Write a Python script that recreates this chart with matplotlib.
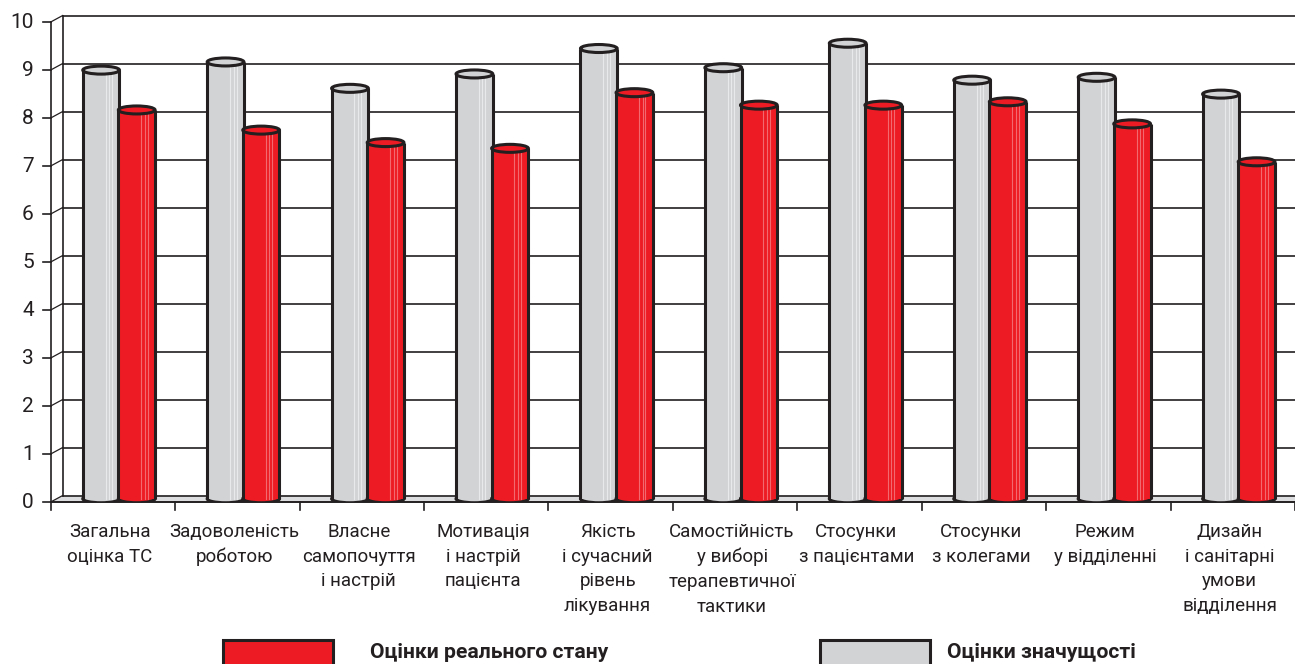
import matplotlib
matplotlib.use('Agg')
import matplotlib.pyplot as plt
from matplotlib.patches import Ellipse, Rectangle, Polygon
from matplotlib.transforms import offset_copy

plt.rcParams['font.family'] = ['Roboto', 'DejaVu Sans']

# Data
categories = ['Загальна\nоцінка ТС', 'Задоволеність\nроботою', 'Власне\nсамопочуття\nі настрій',
              'Мотивація\nі настрій\nпацієнта', 'Якість\nі сучасний\nрівень\nлікування',
              'Самостійність\nу виборі\nтерапевтичної\nтактики', 'Стосунки\nз пацієнтами',
              'Стосунки\nз колегами', 'Режим\nу відділенні', 'Дизайн\nі санітарні\nумови\nвідділення']
importance = [8.93, 9.1, 8.55, 8.85, 9.38, 8.98, 9.49, 8.72, 8.78, 8.43]
real_state = [8.1, 7.68, 7.42, 7.3, 8.46, 8.2, 8.2, 8.27, 7.81, 7.02]
y_ticks = list(range(0, 11))
legend_labels = ['Оцінки реального стану', 'Оцінки значущості']

GREY = '#D1D3D4'
RED = '#ED1C24'
DARK = '#231F20'
FLOOR = '#DCDDDE'

W, H = 1295, 664
fig = plt.figure(figsize=(W / 100, H / 100), dpi=100)
left_px, right_px, bottom_px, top_px = 50.7, 1295, 502, 22
ax = fig.add_axes([left_px / W, (H - bottom_px) / H, (right_px - left_px) / W, (bottom_px - top_px) / H])
n = len(categories)
ax.set_xlim(0, n)
ax.set_ylim(0, 10)
ax.axis('off')

# depth of the 3D box, in data units (12 px right, 6.5 px up)
px_x = (right_px - left_px) / n
px_y = (bottom_px - top_px) / 10
DX, DY = 12 / px_x, 6.5 / px_y

# floor
ax.add_patch(Polygon([(0, 0), (n + 1, 0), (n + 1 + DX, DY), (DX, DY)], closed=True,
                     facecolor=FLOOR, edgecolor='none', clip_on=False, zorder=1))
# back wall gridlines, depth lines, y ticks
for t in y_ticks:
    ax.plot([DX, n + 1], [t + DY, t + DY], color=DARK, lw=1.2, clip_on=False, zorder=1.5)
    ax.plot([0, DX], [t, t + DY], color=DARK, lw=0.9, clip_on=False, zorder=1.5)
    ax.plot([-8 / px_x, 0], [t, t], color=DARK, lw=1.2, clip_on=False, zorder=2)
    ax.text(-17 / px_x, t, str(t), ha='right', va='center', fontsize=15, color=DARK)
ax.plot([DX, DX], [DY, 10 + DY], color=DARK, lw=1.2, clip_on=False, zorder=1.5)
ax.plot([0, 0], [0, 10], color=DARK, lw=1.2, clip_on=False, zorder=2)
ax.plot([0, n + 1], [0, 0], color=DARK, lw=1.4, clip_on=False, zorder=2)
for i in range(n + 1):
    ax.plot([i, i], [0, -8 / px_y], color=DARK, lw=1.2, clip_on=False, zorder=2)

# category labels
lab_tr = offset_copy(ax.transData, fig=fig, x=-3, y=-21, units='dots')
for i, lab in enumerate(categories):
    ax.text(i + 0.5, 0, lab, ha='center', va='top', fontsize=13.5, color=DARK,
            linespacing=1.48, transform=lab_tr)

# cylinders
bw = 0.295
eh = 8 / px_y
base = DY / 2


def cylinder(xc, v, color, light, z):
    x0 = xc - bw / 2
    top = v + base
    ax.add_patch(Ellipse((xc, base), bw, eh, facecolor=color, edgecolor=DARK, lw=2.2, zorder=z))
    ax.add_patch(Rectangle((x0, base), bw, v, facecolor=color, edgecolor='none', zorder=z + 0.1))
    for f in (0.62, 0.72, 0.8):
        ax.plot([x0 + f * bw] * 2, [base, top], color=light, lw=0.8, zorder=z + 0.2)
    ax.plot([x0, x0], [base, top], color=DARK, lw=2.2, zorder=z + 0.3, solid_capstyle='butt')
    ax.plot([x0 + bw, x0 + bw], [base, top], color=DARK, lw=2.2, zorder=z + 0.3, solid_capstyle='butt')
    ax.add_patch(Ellipse((xc, top), bw, eh, facecolor=color, edgecolor=DARK, lw=2.2, zorder=z + 0.4))


off = 0.143
for i in range(n):
    xc = i + 0.5 + DX / 2
    cylinder(xc - off, importance[i], GREY, '#E8E9EA', 3 + i)
    cylinder(xc + off, real_state[i], RED, '#F26A70', 3.5 + i)

# legend
for (x0, col), lab, tx in zip([(222.7, RED), (820, GREY)], legend_labels, [370, 947]):
    fig.patches.append(Rectangle((x0 / W, -6 / H), 110 / W, 30 / H, transform=fig.transFigure,
                                 facecolor=col, edgecolor=DARK, lw=2.2))
    fig.text(tx / W, (H - 652) / H, lab, ha='left', va='center', fontsize=15.2,
             fontweight='bold', color=DARK)

fig.savefig('out.png', dpi=100)
